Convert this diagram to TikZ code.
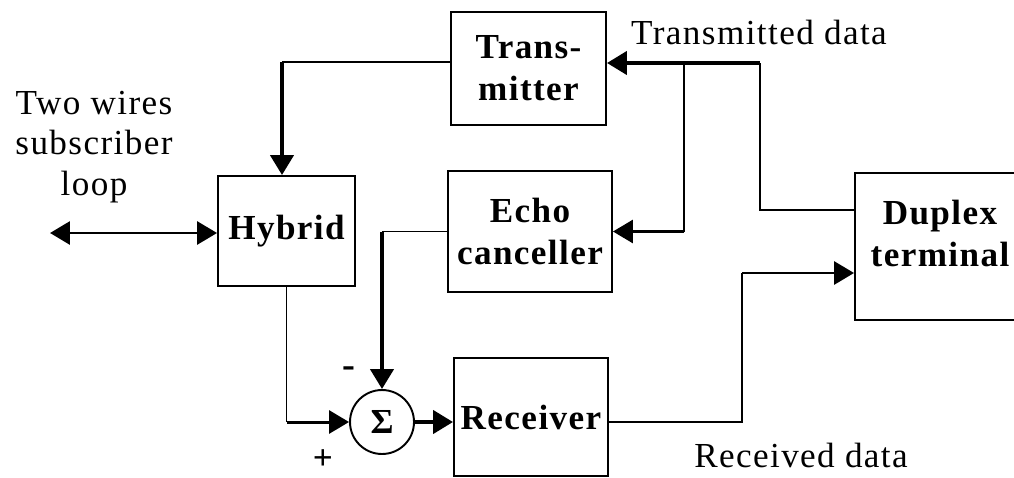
\documentclass[tikz,border=0pt]{standalone}
\usepackage{fontspec}
\setmainfont{Liberation Serif}[LetterSpace=4]
\usetikzlibrary{arrows.meta,positioning,calc}

\begin{document}
\begin{tikzpicture}[
        x=0.02cm, y=-0.02cm,
        font=\fontsize{20}{23}\selectfont,
        blk/.style={draw,line width=1.1pt,font=\fontsize{20}{24}\selectfont\bfseries,align=center,inner sep=0pt},
        lbl/.style={align=center,inner sep=0pt},
        wire/.style={line width=1.1pt},
        feed/.style={line width=1.7pt,-{Triangle[length=0.4cm,width=0.46cm]}},
        bus/.style={line width=2.4pt,-{Triangle[length=0.4cm,width=0.46cm]}}
      ]
      \useasboundingbox (0,0) rectangle (1014,477);

      \node[blk,minimum width=3.1cm,minimum height=2.26cm] (trans) at (528.5,68.5) {Trans-\\mitter};
      \node[blk,minimum width=3.28cm,minimum height=2.42cm] (echo) at (530,231.5) {Echo\\canceller};
      \node[blk,minimum width=2.74cm,minimum height=2.2cm] (hyb) at (286.5,231) {Hybrid};
      \node[blk,minimum width=3.08cm,minimum height=2.36cm] (recv) at (531,417) {Receiver};
      \node[blk,minimum width=4cm,minimum height=2.94cm] (dup) at (955,246.5) {Duplex\rule{0.6cm}{0pt}\\terminal\rule{0.6cm}{0pt}\rule[-15pt]{0pt}{15pt}};
      \node[draw,circle,wire,minimum size=1.28cm,inner sep=0pt,font=\fontsize{20}{24}\selectfont\bfseries] (sum) at (382,422) {Σ};

      \node[lbl] (txlbl) at (759,32) {Transmitted data};
      \node[lbl] (rxlbl) at (801,455) {Received data};
      \node[lbl] (looplbl) at (94,147) {Two wires\\subscriber\\loop};
      \node[lbl,font=\fontsize{22}{24}\selectfont\bfseries] (minus) at (349,372) {-};
      \node[lbl,font=\fontsize{20}{24}\selectfont\bfseries] (plus) at (323,460) {+};

      \coordinate (txin) at (760,63);
      \coordinate (fork) at (684,63);
      \coordinate (hybin) at (282,62);
      \coordinate (loop) at (50,233);
      \coordinate (rxup) at (742,273);

      % transmit side
      \draw[bus] (txin) -- (txin -| trans.east);
      \draw[wire] (fork) -- (fork |- echo.east);
      \draw[feed] (fork |- echo.east) -- (echo.east);
      \draw[wire] (txin) |- ([yshift=0.73cm]dup.west);
      \draw[wire] (trans.west |- hybin) -- (hybin);
      \draw[bus] (hybin) -- (hybin |- hyb.north);

      % receive side
      \draw[feed,{Triangle[length=0.4cm,width=0.46cm]}-{Triangle[length=0.4cm,width=0.46cm]}] (loop) -- (loop -| hyb.west);
      \draw[wire] (hyb.south) -- (hyb.south |- sum);
      \draw[feed] (hyb.south |- sum) -- (sum.west);
      \draw[wire] (echo.west) -- (echo.west -| sum);
      \draw[bus] (echo.west -| sum) -- (sum.north);
      \draw[bus] (sum.east) -- (sum.east -| recv.west);
      \draw[wire] (recv.east |- sum) -| (rxup);
      \draw[feed] (rxup) -- (rxup -| dup.west);
    \end{tikzpicture}
\end{document}
